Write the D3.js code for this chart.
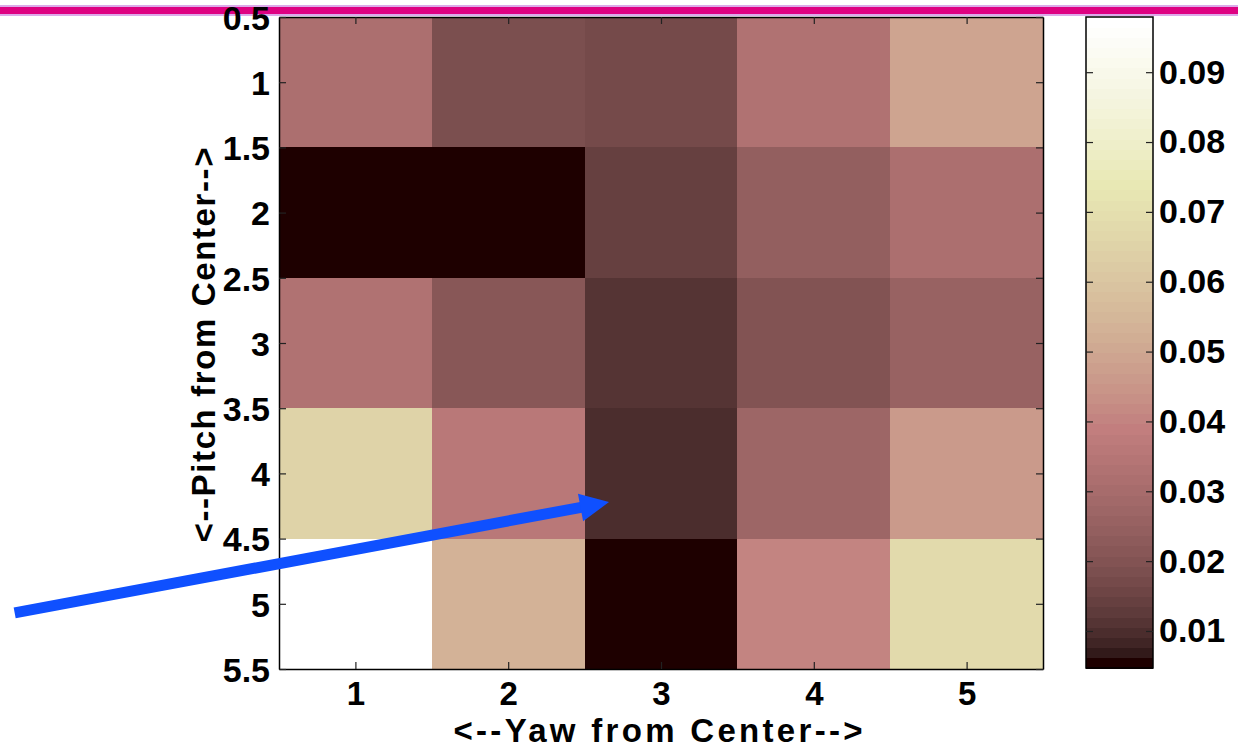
<!DOCTYPE html>
<html lang="en">
<head>
    <meta charset="UTF-8">
    <title>Pitch / Yaw heat map</title>
    <script src="https://d3js.org/d3.v7.min.js"></script>
    <style>
        body{
            margin: 0;
            background: white;
            font-family: "Liberation Sans", Arial, sans-serif;
        }
        .tick text{
            font-family: "Liberation Sans", Arial, sans-serif;
            font-size: 34px;
            font-weight: bold;
            fill: black;
        }
        .x-axis .tick text{
            font-size: 33px;
        }
        .label{
            font-family: "Liberation Sans", Arial, sans-serif;
            font-size: 33px;
            font-weight: bold;
        }
    </style>
</head>
<body>
<svg id="chart" width="1238" height="748"></svg>
<script>
    // data
    let yawValues = [1, 2, 3, 4, 5]
    let pitchValues = [1, 2, 3, 4, 5]
    // one row per pitch, one column per yaw
    let row1 = [0.0316, 0.0185, 0.0171, 0.0331, 0.0491]
    let row2 = [0.0047, 0.0047, 0.0142, 0.0244, 0.0316]
    let row3 = [0.0331, 0.0214, 0.0113, 0.0200, 0.0258]
    let row4 = [0.0651, 0.0360, 0.0098, 0.0273, 0.0462]
    let row5 = [0.0979, 0.0535, 0.0047, 0.0404, 0.0680]
    let rows = [row1, row2, row3, row4, row5]

    let yawTicks = [1, 2, 3, 4, 5]
    let pitchTicks = [0.5, 1, 1.5, 2, 2.5, 3, 3.5, 4, 4.5, 5, 5.5]
    let colorTicks = [0.01, 0.02, 0.03, 0.04, 0.05, 0.06, 0.07, 0.08, 0.09]

    // annotation arrow, in data units (yaw, pitch)
    let arrowFrom = [-1.23, 5.07]
    let arrowTo = [2.66, 4.22]

    let cells = []
    rows.forEach((r, i) => r.forEach((v, j) => cells.push({yaw: yawValues[j], pitch: pitchValues[i], value: v})))

    // matlab "pink" colormap, 64 entries
    function pinkMap(m) {
        let n = Math.floor(3 / 8 * m)
        let out = []
        for (let i = 0; i < m; i++) {
            let g = i / (m - 1)
            let hr = i < n ? (i + 1) / n : 1
            let hg = i < n ? 0 : (i < 2 * n ? (i - n + 1) / n : 1)
            let hb = i < 2 * n ? 0 : (i - 2 * n + 1) / (m - 2 * n)
            let c = [hr, hg, hb].map(h => Math.round(255 * Math.sqrt((2 * g + h) / 3)))
            out.push(d3.rgb(c[0], c[1], c[2]).formatHex())
        }
        return out
    }
    let pink = pinkMap(64)

    let vExtent = d3.extent(cells, d => d.value)
    let color = d3.scaleQuantize().domain(vExtent).range(pink)

    let svg = d3.select("#chart")

    // magenta rule along the top
    svg.append("rect").attr("x", 0).attr("y", 5).attr("width", 1238).attr("height", 11).attr("fill", "#dcaaea")
    svg.append("rect").attr("x", 0).attr("y", 7).attr("width", 1238).attr("height", 7).attr("fill", "#de0182")

    let x = d3.scaleLinear().domain([0.5, 5.5]).range([279, 1043])
    let y = d3.scaleLinear().domain([0.5, 5.5]).range([17, 669])

    let plot = svg.append("g")
    plot.selectAll("rect.cell")
        .data(cells)
        .enter()
        .append("rect")
        .attr("class", "cell")
        .attr("x", d => x(d.yaw - 0.5))
        .attr("y", d => y(d.pitch - 0.5))
        .attr("width", d => x(d.yaw + 0.5) - x(d.yaw - 0.5))
        .attr("height", d => y(d.pitch + 0.5) - y(d.pitch - 0.5))
        .attr("fill", d => color(d.value))
        .attr("shape-rendering", "crispEdges")

    function styleAxis(g) {
        g.select(".domain").attr("stroke", "black").attr("stroke-width", 1.5)
        g.selectAll(".tick line").attr("stroke", "#222").attr("stroke-width", 1.2)
    }

    svg.append("g").attr("class", "x-axis").attr("transform", "translate(0,669)")
        .call(d3.axisBottom(x).tickValues(yawTicks).tickSize(-7).tickSizeOuter(0).tickPadding(13).tickFormat(d3.format("d")))
        .call(styleAxis)
    svg.append("g").attr("transform", "translate(0,17)")
        .call(d3.axisTop(x).tickValues(yawTicks).tickSize(-7).tickSizeOuter(0).tickFormat(""))
        .call(styleAxis)
    svg.append("g").attr("transform", "translate(279,0)")
        .call(d3.axisLeft(y).tickValues(pitchTicks).tickSize(-7).tickSizeOuter(0).tickPadding(9).tickFormat(d => d3.format("")(d)))
        .call(styleAxis)
        .selectAll(".tick text").attr("dy", "0.36em")
    svg.append("g").attr("transform", "translate(1043,0)")
        .call(d3.axisRight(y).tickValues(pitchTicks).tickSize(-7).tickSizeOuter(0).tickFormat(""))
        .call(styleAxis)

    svg.append("text")
        .attr("class", "label")
        .attr("x", 658)
        .attr("y", 742)
        .attr("text-anchor", "middle")
        .attr("textLength", 409)
        .attr("lengthAdjust", "spacing")
        .text("<--Yaw from Center-->")

    svg.append("text")
        .attr("class", "label")
        .attr("transform", "translate(215,345) rotate(-90)")
        .attr("text-anchor", "middle")
        .attr("textLength", 395)
        .attr("lengthAdjust", "spacing")
        .text("<--Pitch from Center-->")

    // colour bar
    let cb = d3.scaleLinear().domain(vExtent).range([668, 17])
    let step = (vExtent[1] - vExtent[0]) / pink.length
    svg.append("g").selectAll("rect")
        .data(pink)
        .enter()
        .append("rect")
        .attr("x", 1086)
        .attr("width", 67)
        .attr("y", (d, i) => cb(vExtent[0] + (i + 1) * step))
        .attr("height", (d, i) => cb(vExtent[0] + i * step) - cb(vExtent[0] + (i + 1) * step) + 0.5)
        .attr("fill", d => d)
        .attr("shape-rendering", "crispEdges")

    svg.append("rect").attr("x", 1086).attr("y", 17).attr("width", 67).attr("height", 651)
        .attr("fill", "none").attr("stroke", "black").attr("stroke-width", 1.5)

    svg.append("g").attr("transform", "translate(1153,0)")
        .call(d3.axisRight(cb).tickValues(colorTicks).tickSize(-7).tickSizeOuter(0).tickPadding(6).tickFormat(d3.format(".2f")))
        .call(styleAxis)
        .call(g => g.select(".domain").remove())
    svg.append("g").attr("transform", "translate(1086,0)")
        .call(d3.axisLeft(cb).tickValues(colorTicks).tickSize(-7).tickSizeOuter(0).tickFormat(""))
        .call(styleAxis)
        .call(g => g.select(".domain").remove())

    // blue arrow
    let p0 = [x(arrowFrom[0]), y(arrowFrom[1])]
    let p1 = [x(arrowTo[0]), y(arrowTo[1])]
    let ang = Math.atan2(p1[1] - p0[1], p1[0] - p0[0])
    let headLen = 29, headHalf = 14
    let base = [p1[0] - headLen * Math.cos(ang), p1[1] - headLen * Math.sin(ang)]
    svg.append("line")
        .attr("x1", p0[0]).attr("y1", p0[1])
        .attr("x2", base[0] + 2 * Math.cos(ang)).attr("y2", base[1] + 2 * Math.sin(ang))
        .attr("stroke", "#0f50ff").attr("stroke-width", 11)
    svg.append("path")
        .attr("d", d3.line()([
            p1,
            [base[0] - headHalf * Math.sin(ang), base[1] + headHalf * Math.cos(ang)],
            [base[0] + headHalf * Math.sin(ang), base[1] - headHalf * Math.cos(ang)]
        ]) + "Z")
        .attr("fill", "#0f50ff")
</script>
</body>
</html>
